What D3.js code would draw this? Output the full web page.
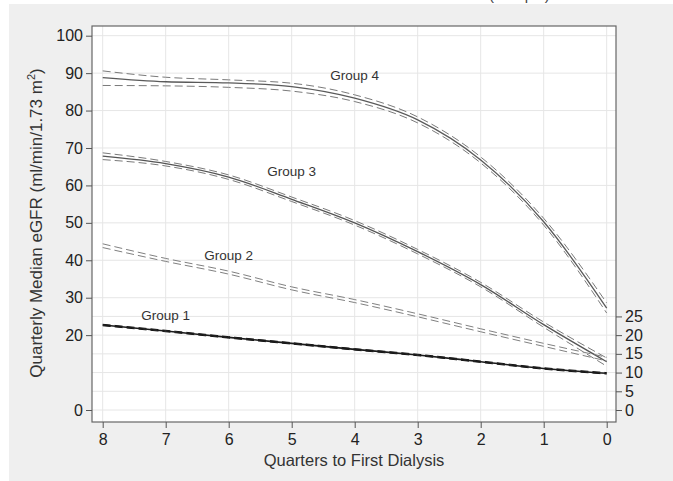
<!DOCTYPE html>
<html><head><meta charset="utf-8">
<script src="https://cdn.jsdelivr.net/npm/d3@7"></script>
<style>body{margin:0;background:#fff}svg{display:block;font-family:"Liberation Sans",Arial,sans-serif}</style>
</head><body><svg id="c" width="673" height="481"></svg>
<script>
const quarters = [8,7,6,5,4,3,2,1,0];
const g1 = [22.7,21.1,19.4,17.8,16.2,14.7,12.9,11.1,9.8];
const g1Upper = [22.9,21.3,19.6,18.0,16.4,14.9,13.1,11.3,10.0];
const g1Lower = [22.5,20.9,19.2,17.6,16.0,14.5,12.7,10.9,9.6];
const g2Upper = [44.4,40.5,37.1,32.9,29.5,25.7,21.7,17.8,14.1];
const g2Lower = [43.4,39.7,36.3,32.1,28.7,24.9,20.9,17.0,13.1];
const g3 = [67.8,65.8,62.2,56.3,50.0,42.3,33.5,22.8,12.9];
const g3Upper = [68.7,66.4,62.8,56.9,50.6,42.9,34.1,23.5,13.9];
const g3Lower = [66.9,65.2,61.6,55.7,49.4,41.7,32.9,22.1,11.7];
const g4 = [88.8,87.7,87.4,86.4,83.3,77.5,66.8,50.3,27.2];
const g4Upper = [90.6,88.9,88.2,87.3,84.2,78.3,67.6,51.2,28.6];
const g4Lower = [86.7,86.6,86.2,85.2,82.4,76.7,66.0,49.4,25.9];
const leftTicks = [0,20,30,40,50,60,70,80,90,100];
const rightTicks = [0,5,10,15,20,25];
const groupLabels = [
  {text:"Group 1", q:7.0, v:24.0},
  {text:"Group 2", q:6.0, v:40.1},
  {text:"Group 3", q:5.0, v:62.4},
  {text:"Group 4", q:4.0, v:88.2}
];

const svg = d3.select("#c");
const L=92, R=616, T=26, B=422;
const x = d3.scaleLinear().domain([8,0]).range([102.7,606.7]);
const y = d3.scaleLinear().domain([0,100]).range([410,35.7]);

svg.append("rect").attr("x",9).attr("y",4).attr("width",664).attr("height",477).attr("fill","#efefef");
svg.append("text").attr("x",489).attr("y",0).attr("font-size",15).attr("fill","#444").text("(Sample)");
svg.append("rect").attr("x",L).attr("y",T).attr("width",R-L).attr("height",B-T).attr("fill","#fff");

// grid
const gridVals = Array.from(new Set(leftTicks.concat(rightTicks)));
svg.append("g").selectAll("line").data(gridVals).join("line")
  .attr("x1",L).attr("x2",R).attr("y1",d=>y(d)).attr("y2",d=>y(d))
  .attr("stroke","#e6e6e6").attr("stroke-width",1);
svg.append("g").selectAll("line").data(quarters).join("line")
  .attr("x1",d=>x(d)).attr("x2",d=>x(d)).attr("y1",T).attr("y2",B)
  .attr("stroke","#e6e6e6").attr("stroke-width",1);

const line = (vals)=> d3.line().x((d,i)=>x(quarters[i])).y(d=>y(d)).curve(d3.curveMonotoneX)(vals);
function draw(vals,color,w,dash){
  const p = svg.append("path").attr("d",line(vals)).attr("fill","none")
    .attr("stroke",color).attr("stroke-width",w);
  if(dash) p.attr("stroke-dasharray",dash);
}
draw(g4Upper,"#7a7a7a",1,"8,4");
draw(g4Lower,"#7a7a7a",1,"8,4");
draw(g4,"#5a5a5a",1.3);
draw(g3Upper,"#7a7a7a",1,"8,4");
draw(g3Lower,"#7a7a7a",1,"8,4");
draw(g3,"#555",1.3);
draw(g2Upper,"#808080",1,"8,4");
draw(g2Lower,"#808080",1,"8,4");
draw(g1Upper,"#111",1,"8,4");
draw(g1Lower,"#111",1,"8,4");
draw(g1,"#1a1a1a",1.6);

svg.append("g").selectAll("text").data(groupLabels).join("text")
  .attr("x",d=>x(d.q)).attr("y",d=>y(d.v)).attr("text-anchor","middle")
  .attr("font-size",13.5).attr("fill","#333").text(d=>d.text);

// frame
svg.append("rect").attr("x",L).attr("y",T).attr("width",R-L).attr("height",B-T)
  .attr("fill","none").attr("stroke","#666").attr("stroke-width",1.2);

// axes
const ax = svg.append("g").attr("transform",`translate(0,${B})`)
  .call(d3.axisBottom(x).tickValues(quarters).tickSize(6).tickPadding(6).tickFormat(d3.format("d")));
const ay = svg.append("g").attr("transform",`translate(${L},0)`)
  .call(d3.axisLeft(y).tickValues(leftTicks).tickSize(6).tickPadding(3));
const ar = svg.append("g").attr("transform",`translate(${R},0)`)
  .call(d3.axisRight(y).tickValues(rightTicks).tickSize(6).tickPadding(3));
[ax,ay,ar].forEach(g=>{
  g.select(".domain").remove();
  g.selectAll("line").attr("stroke","#555");
  g.selectAll("text").attr("font-size",16).attr("fill","#222").attr("font-family","Liberation Sans, Arial, sans-serif");
});

svg.append("text").attr("x",(L+R)/2).attr("y",466).attr("text-anchor","middle")
  .attr("font-size",16.5).attr("fill","#333").text("Quarters to First Dialysis");
const yt = svg.append("text").attr("transform","translate(42,223) rotate(-90)").attr("text-anchor","middle")
  .attr("font-size",17).attr("fill","#333");
yt.append("tspan").text("Quarterly Median eGFR (ml/min/1.73 m");
yt.append("tspan").attr("font-size",11).attr("dy",-7).text("2");
yt.append("tspan").attr("dy",7).text(")");
</script></body></html>
